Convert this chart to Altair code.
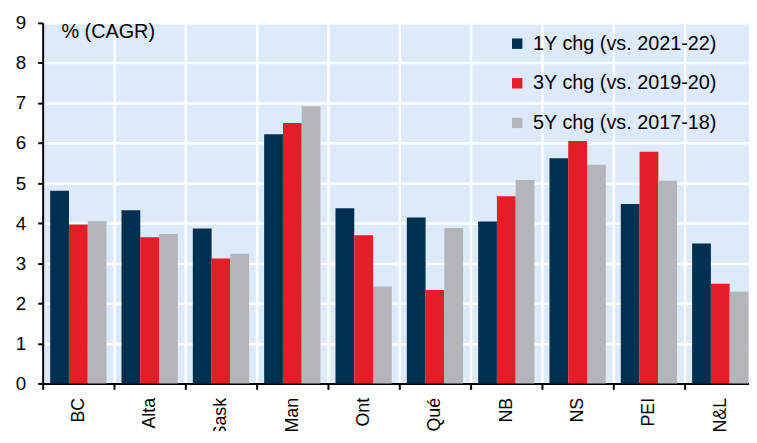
import altair as alt
import pandas as pd

provinces = ["BC", "Alta", "Sask", "Man", "Ont", "Qué", "NB", "NS", "PEI", "N&L"]
series = ["1Y chg (vs. 2021-22)", "3Y chg (vs. 2019-20)", "5Y chg (vs. 2017-18)"]
chg_1y = [4.81, 4.32, 3.87, 6.22, 4.37, 4.14, 4.04, 5.62, 4.48, 3.49]
chg_3y = [3.97, 3.65, 3.12, 6.50, 3.70, 2.33, 4.67, 6.05, 5.78, 2.49]
chg_5y = [4.05, 3.73, 3.24, 6.92, 2.42, 3.88, 5.08, 5.46, 5.06, 2.29]
colors = ["#00304F", "#E31E26", "#B4B5B8"]

rows = []
for s, vals in zip(series, [chg_1y, chg_3y, chg_5y]):
    for p, v in zip(provinces, vals):
        rows.append({"prov": p, "series": s, "value": v})
df = pd.DataFrame(rows)

FONT = "Liberation Sans"
W = 720

bars = alt.Chart(df).mark_bar().encode(
    x=alt.X("prov:N", sort=provinces, title=None,
            scale=alt.Scale(paddingInner=0, paddingOuter=0),
            axis=alt.Axis(tickBand="extent", labelAngle=270,
                          labelAlign="right", labelBaseline="middle",
                          labelFontSize=18, labelPadding=8, tickSize=6,
                          tickWidth=2, tickColor="black",
                          domainColor="black", domainWidth=2,
                          grid=True, gridColor="white", gridWidth=2.5)),
    xOffset=alt.XOffset("series:N", sort=series,
                        scale=alt.Scale(paddingOuter=0.4, paddingInner=0)),
    y=alt.Y("value:Q", title=None,
            scale=alt.Scale(domain=[0, 9], nice=False),
            axis=alt.Axis(values=list(range(10)), labelFontSize=19,
                          labelPadding=12, tickSize=5, tickWidth=2,
                          tickColor="black", domainColor="black",
                          domainWidth=2, grid=True, gridColor="white",
                          gridWidth=2.5)),
    color=alt.Color("series:N", sort=series,
                    scale=alt.Scale(domain=series, range=colors),
                    legend=alt.Legend(title=None, orient="none",
                                      legendX=469, legendY=11,
                                      symbolType="square", symbolSize=110,
                                      symbolStrokeWidth=0, labelLimit=400,
                                      labelFontSize=20, rowPadding=20,
                                      labelOffset=6)),
)

note = alt.Chart(pd.DataFrame({"t": ["% (CAGR)"]})).mark_text(
    align="left", baseline="middle", fontSize=20, font=FONT, color="black"
).encode(text="t:N", x=alt.value(19), y=alt.value(9))

chart = alt.layer(bars, note).properties(
    width=W, height=364,
    autosize=alt.AutoSizeParams(type="none"),
    padding={"left": 35, "top": 13, "right": -7, "bottom": 46},
).configure(
    font=FONT
).configure_view(
    fill="#DDEAFB", strokeWidth=0
).configure_axis(
    labelFont=FONT, labelColor="black"
).configure_legend(
    labelFont=FONT, labelColor="black"
)

chart.save("out.html", embed_options={"renderer": "svg", "actions": False})
